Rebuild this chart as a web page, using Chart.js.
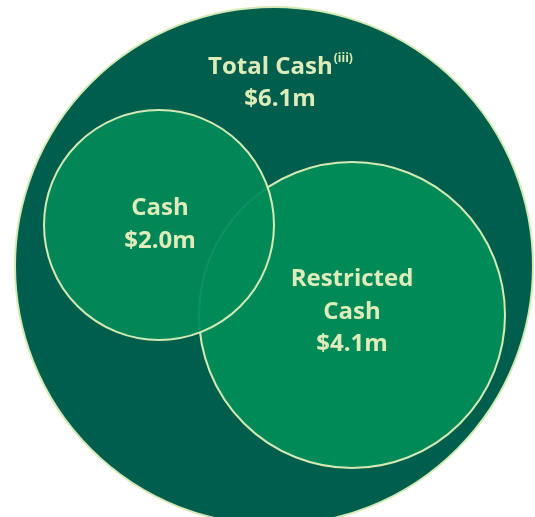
<!DOCTYPE html>
<html>
<head>
<meta charset="utf-8">
<script src="https://cdn.jsdelivr.net/npm/chart.js@4"></script>
<style>
  html, body { margin: 0; padding: 0; background: #ffffff; }
  #wrap { width: 535px; height: 517px; }
</style>
</head>
<body>
<div id="wrap"><canvas id="venn" width="535" height="517"></canvas></div>
<script>
// values shown in the diagram ($m)
const names = ["Cash", "Restricted Cash", "Total Cash"];
const valores = [2.0, 4.1, 6.1];
const textos = [["Cash", "$2.0m"], ["Restricted", "Cash", "$4.1m"], ["Total Cash", "$6.1m"]];

// layout of the circles in canvas pixels (not data)
const circleX = [159, 352, 274];
const circleY = [225, 315, 266];
const circleR = [115, 153, 259];

const cores = {
  dark: "rgb(0, 94, 76)",
  mid: "rgba(0, 138, 88, 0.93)",
  midSolid: "rgb(0, 138, 88)",
  line: "rgb(212, 234, 180)",
  texto: "rgb(222, 236, 186)"
};

const fonte = "'Open Sans', Lato, sans-serif";
const big = "bold 24px " + fonte;
const small = "bold 12px " + fonte;

const labelsPlugin = {
  id: "vennLabels",
  afterDatasetsDraw(chart) {
    const ctx = chart.ctx;
    ctx.save();
    ctx.fillStyle = cores.texto;
    ctx.textAlign = "center";
    ctx.textBaseline = "middle";
    ctx.font = big;

    // Cash
    let m = chart.getDatasetMeta(0).data[0];
    ctx.fillText(textos[0][0], m.x + 1, m.y - 17);
    ctx.fillText(textos[0][1], m.x + 1, m.y + 16);

    // Restricted cash
    m = chart.getDatasetMeta(1).data[0];
    ctx.fillText(textos[1][0], m.x, m.y - 36);
    ctx.fillText(textos[1][1], m.x, m.y - 3);
    ctx.fillText(textos[1][2], m.x, m.y + 29);

    // Total cash (with superscript)
    m = chart.getDatasetMeta(2).data[0];
    const w = ctx.measureText(textos[2][0]).width;
    ctx.font = small;
    const ws = ctx.measureText("(iii)").width;
    const x0 = m.x + 6 - (w + ws) / 2;
    ctx.font = big;
    ctx.textAlign = "left";
    ctx.fillText(textos[2][0], x0, m.y - 199);
    ctx.font = small;
    ctx.fillText("(iii)", x0 + w + 1, m.y - 207);
    ctx.font = big;
    ctx.textAlign = "center";
    ctx.fillText(textos[2][1], m.x + 6, m.y - 167);
    ctx.restore();
  }
};

const ctx = document.getElementById("venn").getContext("2d");
new Chart(ctx, {
  type: "bubble",
  data: {
    datasets: [
      {
        label: names[0],
        data: [{ x: circleX[0], y: circleY[0], r: circleR[0], v: valores[0] }],
        backgroundColor: cores.mid,
        borderColor: cores.line,
        borderWidth: 2,
        clip: false,
        order: 0
      },
      {
        label: names[1],
        data: [{ x: circleX[1], y: circleY[1], r: circleR[1], v: valores[1] }],
        backgroundColor: cores.midSolid,
        borderColor: cores.line,
        borderWidth: 2,
        clip: false,
        order: 1
      },
      {
        label: names[2],
        data: [{ x: circleX[2], y: circleY[2], r: circleR[2], v: valores[2] }],
        backgroundColor: cores.dark,
        borderColor: cores.line,
        borderWidth: 2,
        clip: false,
        order: 2
      }
    ]
  },
  options: {
    responsive: false,
    animation: false,
    events: [],
    layout: { padding: 0, autoPadding: false },
    plugins: { legend: { display: false }, tooltip: { enabled: false } },
    scales: {
      x: { type: "linear", min: 0, max: 535, display: false },
      y: { type: "linear", min: 0, max: 517, reverse: true, display: false }
    }
  },
  plugins: [labelsPlugin]
});
</script>
</body>
</html>
